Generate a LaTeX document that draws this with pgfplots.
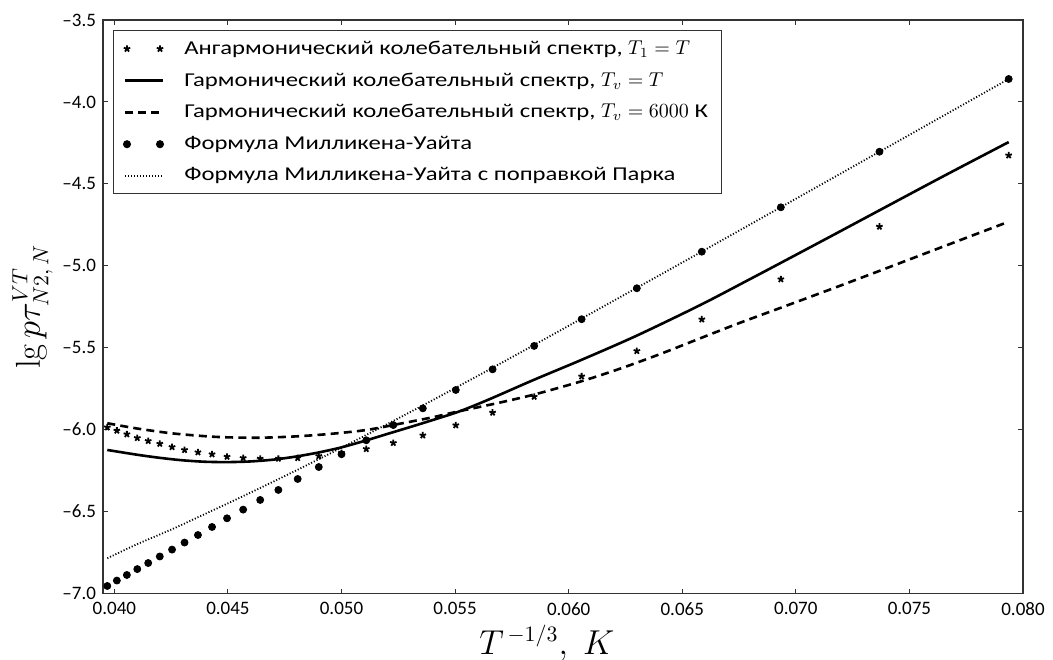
\documentclass[border=0pt]{standalone}
\usepackage[no-math]{fontspec}
\setmainfont{Carlito}
\newfontfamily\legfont[FakeStretch=1.26]{Carlito}
\usepackage{pgfplots}
\pgfplotsset{compat=1.18}
\pgfplotsset{
  twomarks/.style={legend image code/.code={\draw[##1] plot[only marks] coordinates {(1pt,0pt) (17.5pt,0pt)}; \path (27pt,0pt);}},
  legline/.style={legend image code/.code={\draw[##1] (0pt,0pt) -- (19pt,0pt); \path (27pt,0pt);}}
}
\begin{document}
\begin{tikzpicture}
\useasboundingbox (-51.5pt,-32.75pt) rectangle (475pt,296.75pt);
\begin{axis}[
  at={(0,0)}, anchor=south west,
  scale only axis, width=460pt, height=286.75pt,
  xmin=0.0395, xmax=0.080, ymin=-7.0, ymax=-3.5,
  scaled x ticks=false, scaled y ticks=false,
  xtick={0.040,0.045,0.050,0.055,0.060,0.065,0.070,0.075,0.080},
  xticklabels={0.040,0.045,0.050,0.055,0.060,0.065,0.070,0.075,0.080},
  ytick={-7.0,-6.5,-6.0,-5.5,-5.0,-4.5,-4.0,-3.5},
  yticklabels={\textendash7.0,\textendash6.5,\textendash6.0,\textendash5.5,\textendash5.0,\textendash4.5,\textendash4.0,\textendash3.5},
  tick align=inside, tick pos=both, major tick length=2.5pt,
  tick label style={font=\fontsize{9.5}{11}\selectfont},
  xticklabel style={yshift=-1pt},
  axis line style={line width=0.6pt, black!80},
  every tick/.style={black!80, line width=0.5pt},
  xlabel={$T^{\,-1/3},\; K$},
  ylabel={$\lg p\tau^{VT}_{N2,\,N}$},
  label style={font=\fontsize{16}{18}\selectfont},
  xlabel style={yshift=2pt, xshift=-8pt},
  ylabel style={yshift=-2pt},
  legend style={at={([xshift=5pt,yshift=-5pt]axis description cs:0,1)}, anchor=north west,
    font=\legfont\fontsize{9.8}{11}\selectfont, draw=black!80, line width=0.5pt,
    row sep=3.6pt, inner xsep=5pt, inner ysep=3pt},
  legend cell align=left,
]
\addplot[only marks, mark=star, mark size=1.7pt, black, line width=0.9pt, twomarks]
coordinates {(0.03969,-5.986)(0.04011,-6.006)(0.04055,-6.028)(0.04101,-6.051)(0.04149,-6.069)(0.04200,-6.086)(0.04254,-6.106)(0.04309,-6.124)(0.04368,-6.138)(0.04430,-6.150)(0.04496,-6.165)(0.04567,-6.173)(0.04642,-6.177)(0.04722,-6.177)(0.04807,-6.173)(0.04900,-6.161)(0.05000,-6.142)(0.05109,-6.118)(0.05228,-6.081)(0.05358,-6.035)(0.05503,-5.973)(0.05665,-5.896)(0.05848,-5.799)(0.06057,-5.675)(0.06300,-5.520)(0.06586,-5.327)(0.06934,-5.082)(0.07368,-4.761)(0.07937,-4.326)};
\addlegendentry{Ангармонический колебательный спектр, $T_1 = T$}
\addplot[black, line width=1.3pt, smooth, tension=0.5, legline]
coordinates {(0.03969,-6.124)(0.0410,-6.153)(0.0420,-6.172)(0.0430,-6.187)(0.0440,-6.196)(0.0450,-6.198)(0.0460,-6.194)(0.0470,-6.183)(0.0480,-6.164)(0.0490,-6.139)(0.0500,-6.108)(0.0511,-6.065)(0.0520,-6.027)(0.0530,-5.985)(0.0540,-5.942)(0.0552,-5.888)(0.0565,-5.815)(0.05845,-5.697)(0.0606,-5.572)(0.0630,-5.426)(0.0658,-5.239)(0.0680,-5.080)(0.0693,-4.985)(0.0715,-4.823)(0.0737,-4.660)(0.0765,-4.453)(0.07937,-4.245)};
\addlegendentry{Гармонический колебательный спектр, $T_v = T$}
\addplot[black, line width=1.3pt, dash pattern=on 4pt off 2.6pt, smooth, tension=0.5, legline]
coordinates {(0.03969,-5.961)(0.0410,-5.993)(0.0425,-6.022)(0.0440,-6.040)(0.0450,-6.047)(0.0465,-6.049)(0.0480,-6.041)(0.0495,-6.026)(0.0511,-6.002)(0.0526,-5.963)(0.0540,-5.925)(0.0550,-5.893)(0.0568,-5.840)(0.0585,-5.785)(0.0606,-5.703)(0.0623,-5.626)(0.0640,-5.540)(0.0658,-5.442)(0.0675,-5.350)(0.0693,-5.258)(0.0715,-5.145)(0.0737,-5.030)(0.0765,-4.882)(0.07937,-4.731)};
\addlegendentry{Гармонический колебательный спектр, $T_v = 6000$ К}
\addplot[only marks, mark=*, mark size=1.75pt, black, twomarks]
coordinates {(0.03969,-6.954)(0.04011,-6.921)(0.04055,-6.887)(0.04101,-6.851)(0.04149,-6.814)(0.04200,-6.774)(0.04254,-6.732)(0.04309,-6.689)(0.04368,-6.643)(0.04430,-6.594)(0.04496,-6.541)(0.04567,-6.488)(0.04642,-6.429)(0.04722,-6.368)(0.04807,-6.301)(0.04900,-6.228)(0.05000,-6.150)(0.05109,-6.065)(0.05228,-5.972)(0.05358,-5.870)(0.05503,-5.758)(0.05665,-5.632)(0.05848,-5.489)(0.06057,-5.326)(0.06300,-5.137)(0.06586,-4.914)(0.06934,-4.643)(0.07368,-4.304)(0.07937,-3.860)};
\addlegendentry{Формула Милликена-Уайта}
\addplot[black, line width=0.9pt, dash pattern=on 0.55pt off 0.95pt, smooth, tension=0.5, legline]
coordinates {(0.03969,-6.785)(0.0410,-6.699)(0.0425,-6.610)(0.0440,-6.514)(0.0455,-6.417)(0.0470,-6.317)(0.0485,-6.215)(0.0500,-6.110)(0.0520,-5.967)(0.0540,-5.821)(0.0570,-5.596)(0.0600,-5.366)(0.0650,-4.980)(0.0700,-4.591)(0.0750,-4.201)(0.07937,-3.860)};
\addlegendentry{Формула Милликена-Уайта с поправкой Парка}
\end{axis}
\end{tikzpicture}
\end{document}
